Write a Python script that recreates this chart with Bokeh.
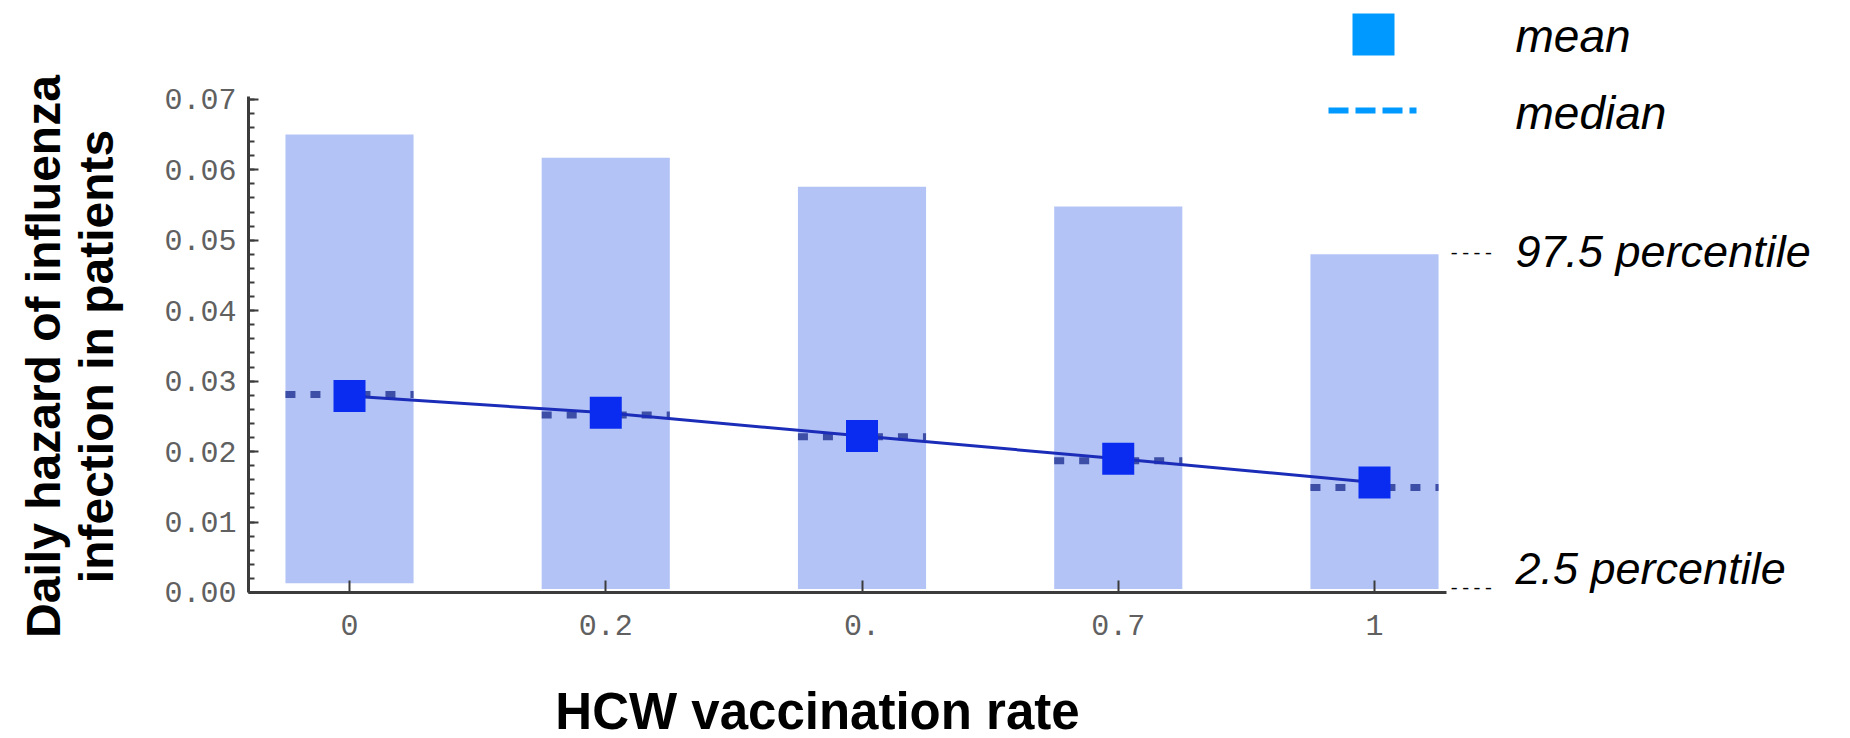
from math import pi
from bokeh.plotting import figure
from bokeh.models import Range1d, FixedTicker, Label, BoxAnnotation, Arrow
from bokeh.embed import file_html
from bokeh.resources import INLINE

# ---- data ----
vacc_rate = [0.0, 0.25, 0.5, 0.75, 1.0]
x_tick_labels = ["0", "0.2", "0.", "0.7", "1"]
upper_975 = [0.0650, 0.0617, 0.0576, 0.0548, 0.0480]
lower_025 = [0.0013, 0.0005, 0.0005, 0.0005, 0.0005]
mean_hazard = [0.0279, 0.0255, 0.0222, 0.0190, 0.0156]
median_hazard = [0.0281, 0.0252, 0.0221, 0.0187, 0.0149]
y_ticks = [0.00, 0.01, 0.02, 0.03, 0.04, 0.05, 0.06, 0.07]
y_tick_labels = ["0.00", "0.01", "0.02", "0.03", "0.04", "0.05", "0.06", "0.07"]

BAR_W = 0.125
X_LO, X_HI = -0.0985, 1.0702   # extent of the drawn x axis
Y_LO, Y_HI = 0.0, 0.0704       # extent of the drawn y axis

W, H = 1850, 738

p = figure(width=W, height=H, output_backend="svg", toolbar_location=None,
           x_range=Range1d(-0.3405, 1.4644), y_range=Range1d(-0.020724, 0.084031),
           min_border_left=0, min_border_right=0, min_border_top=0,
           min_border_bottom=0)

p.vbar(x=vacc_rate, width=BAR_W, bottom=lower_025, top=upper_975,
       fill_color="#b3c3f6", line_color=None)
p.segment(x0=[x - BAR_W / 2 for x in vacc_rate], y0=median_hazard,
          x1=[x + BAR_W / 2 for x in vacc_rate], y1=median_hazard,
          line_color="#3d4ea6", line_width=7, line_dash="10 15")
p.line(vacc_rate, mean_hazard, line_color="#1b2db8", line_width=3)
p.scatter(vacc_rate, mean_hazard, marker="square", size=32,
          fill_color="#0a2cf0", line_color=None)

# ---- axes ----
p.xgrid.grid_line_color = None
p.ygrid.grid_line_color = None
p.outline_line_color = None

p.xaxis.fixed_location = Y_LO
p.yaxis.fixed_location = X_LO
p.xaxis.bounds = (X_LO, X_HI)
p.yaxis.bounds = (Y_LO, Y_HI)
p.xaxis.ticker = FixedTicker(ticks=vacc_rate)
p.xaxis.major_label_overrides = {x: l for x, l in zip(vacc_rate, x_tick_labels)}
p.yaxis.ticker = FixedTicker(ticks=y_ticks,
                             minor_ticks=[i * 0.002 for i in range(36)])
p.yaxis.major_label_overrides = {y: l for y, l in zip(y_ticks, y_tick_labels)}

for ax in (p.xaxis[0], p.yaxis[0]):
    ax.axis_line_color = "#3c3c3c"
    ax.axis_line_width = 3
    ax.major_tick_line_color = "#3c3c3c"
    ax.major_tick_line_width = 2
    ax.minor_tick_line_color = "#3c3c3c"
    ax.minor_tick_line_width = 2
    ax.major_label_text_font = "Liberation Mono"
    ax.major_label_text_font_size = "30px"
    ax.major_label_text_color = "#606060"

p.xaxis.major_tick_in = 12
p.xaxis.major_tick_out = 0
p.xaxis.minor_tick_line_color = None
p.xaxis.major_label_standoff = 23
p.yaxis.major_tick_in = 10
p.yaxis.major_tick_out = 0
p.yaxis.minor_tick_in = 6
p.yaxis.minor_tick_out = 0
p.yaxis.major_label_standoff = 12


def lab(text, x, y, size="46px", style="italic", angle=0, align="left",
        baseline="alphabetic", font="Liberation Sans"):
    p.add_layout(Label(x=x, y=y, x_units="screen", y_units="screen", text=text,
                       angle=angle, text_align=align, text_baseline=baseline,
                       text_font=font, text_font_style=style,
                       text_font_size=size, text_color="black"))


# axis titles
lab("Daily hazard of influenza", 43, 382, size="48px", style="bold",
    angle=pi / 2, align="center")
lab("infection in patients", 96, 382, size="48px", style="bold",
    angle=pi / 2, align="center")
lab("HCW vaccination rate", 817, 27, size="51px", style="bold", align="center")

# legend
p.add_layout(BoxAnnotation(left=1352, right=1394, top=725, bottom=683,
                           left_units="screen", right_units="screen",
                           top_units="screen", bottom_units="screen",
                           fill_color="#0099ff", fill_alpha=1, line_color=None))
p.add_layout(Arrow(end=None, x_start=1328, y_start=628, x_end=1416, y_end=628,
                   start_units="screen", end_units="screen",
                   line_color="#0099ff", line_width=6, line_dash="20 7"))
lab("mean", 1515, 703)
lab("median", 1515, 626)

# percentile annotations
lab("----", 1448, 486, size="19px", style="normal", baseline="middle",
    font="Liberation Mono")
lab("97.5 percentile", 1515, 487, size="45px")
lab("----", 1448, 151, size="19px", style="normal", baseline="middle",
    font="Liberation Mono")
lab("2.5  percentile", 1515, 170, size="45px")

open("out.html", "w").write(file_html(p, INLINE))
